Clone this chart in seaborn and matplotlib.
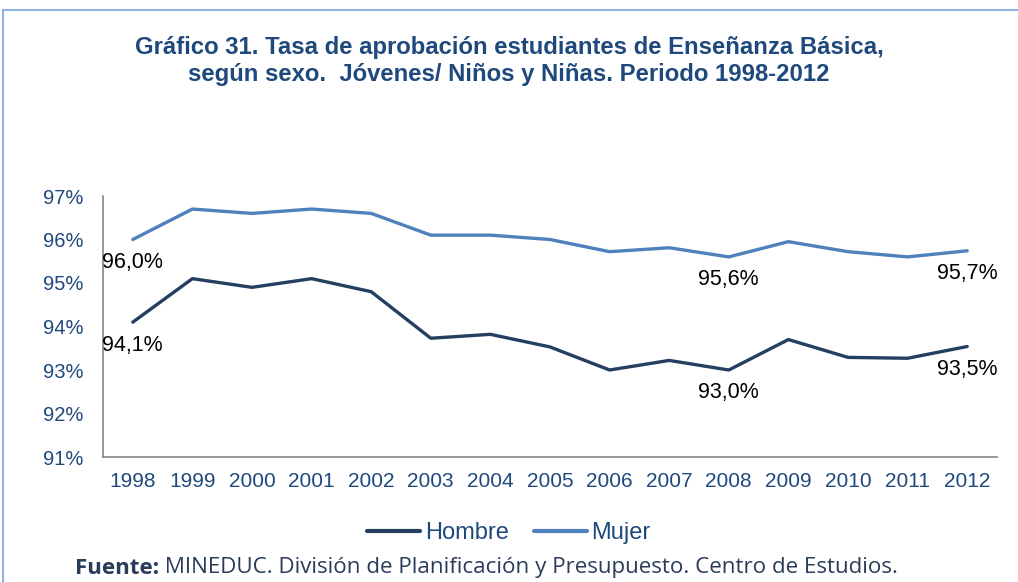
import matplotlib
matplotlib.use("Agg")
import matplotlib.pyplot as plt
from matplotlib.lines import Line2D
from matplotlib.ticker import FixedLocator, PercentFormatter
import pandas as pd
import seaborn as sns

# data
years = list(range(1998, 2013))
hombre = [94.1, 95.1, 94.9, 95.1, 94.8, 93.73, 93.82, 93.53, 93.0, 93.22, 93.0, 93.7, 93.29, 93.27, 93.54]
mujer = [96.0, 96.7, 96.6, 96.7, 96.6, 96.1, 96.1, 96.0, 95.72, 95.81, 95.6, 95.95, 95.72, 95.6, 95.74]
series_names = ["Hombre", "Mujer"]
labelled_years = [1998, 2008, 2012]

navy = "#1F497D"
colors = {"Hombre": "#243F60", "Mujer": "#4F81BD"}

df = pd.DataFrame({
    "year": years * 2,
    "value": hombre + mujer,
    "sexo": [series_names[0]] * len(years) + [series_names[1]] * len(years),
})

sns.set_style("white")
plt.rcParams["font.family"] = ["Liberation Sans", "DejaVu Sans"]

fig = plt.figure(figsize=(10.18, 5.82), dpi=100)
ax = fig.add_axes([103 / 1018, 1 - 457 / 582, (997 - 103) / 1018, (457 - 196) / 582])

sns.lineplot(data=df, x="year", y="value", hue="sexo", palette=colors,
             linewidth=2.4, ax=ax, legend=True)

# data labels below selected points
for name, vals in zip(series_names, [hombre, mujer]):
    for yr, v in zip(years, vals):
        if yr in labelled_years:
            ax.annotate(f"{v:.1f}%".replace(".", ","), xy=(yr, v), xytext=(0, -16.5),
                        textcoords="offset points", ha="center", va="center",
                        fontsize=15.5, color="black")

ax.set_xlim(1997.5, 2012.5)
ax.set_ylim(91, 97)
ax.set_yticks(range(91, 98))
ax.yaxis.set_major_formatter(PercentFormatter(decimals=0))
ax.set_xticks(years)
ax.set_xticklabels([str(y) for y in years])
ax.xaxis.set_minor_locator(FixedLocator([y - 0.5 for y in years] + [2012.5]))
ax.tick_params(axis="x", which="major", length=0, pad=11, labelsize=15, labelcolor=navy)
ax.tick_params(axis="x", which="minor", length=5, width=1.2, color="#868686", direction="out")
ax.tick_params(axis="y", length=5, width=1.2, color="#868686", direction="out",
               labelsize=14.5, labelcolor=navy, pad=9)
ax.set_xlabel("")
ax.set_ylabel("")
for side in ["top", "right"]:
    ax.spines[side].set_visible(False)
for side in ["left", "bottom"]:
    ax.spines[side].set_color("#868686")
    ax.spines[side].set_linewidth(1.2)

handles, labels = ax.get_legend_handles_labels()
ax.get_legend().remove()
leg = fig.legend(handles, labels, loc="center", bbox_to_anchor=(0.5, 1 - 533 / 582), ncol=2,
                 frameon=False, fontsize=17, handlelength=2.25, handletextpad=0.2,
                 columnspacing=1.05)
for t in leg.get_texts():
    t.set_color(navy)
for h in leg.legend_handles:
    h.set_linewidth(3)

fig.text(0.5, 1 - 61 / 582,
         "Gráfico 31. Tasa de aprobación estudiantes de Enseñanza Básica,\n"
         "según sexo.  Jóvenes/ Niños y Niñas. Periodo 1998-2012",
         ha="center", va="center", fontsize=17.2, fontweight="bold", color=navy,
         linespacing=1.25)

src = fig.text(75 / 1018, 1 - 568 / 582, "Fuente:", ha="left", va="center",
               fontsize=16.1, fontweight="bold", color="#2A3C5A", family="Open Sans")
ax.annotate(" MINEDUC. División de Planificación y Presupuesto. Centro de Estudios.",
            xy=(1, 0), xycoords=src, ha="left", va="bottom",
            fontsize=16.1, color="#2A3C5A", family="Open Sans", annotation_clip=False)

# light blue frame around the chart area
fig.add_artist(Line2D([3 / 1018, 1], [1 - 10 / 582, 1 - 10 / 582], color="#8EB4E3",
                      linewidth=1.5, transform=fig.transFigure))
fig.add_artist(Line2D([3 / 1018, 3 / 1018], [0, 1 - 10 / 582], color="#8EB4E3",
                      linewidth=1.5, transform=fig.transFigure))

fig.savefig("out.png", dpi=100)
